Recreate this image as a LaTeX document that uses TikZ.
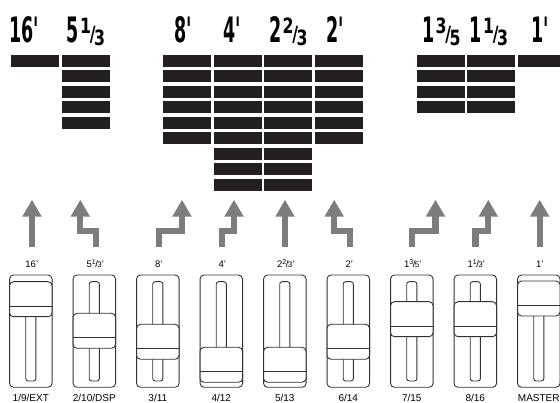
\documentclass[tikz,border=0pt]{standalone}
\usepackage{fontspec}
\setmainfont{Liberation Sans}
\newfontfamily\pixfont[FakeStretch=0.5]{DejaVu Sans}
\newfontfamily\pixsmall[FakeStretch=0.75]{DejaVu Sans}
\definecolor{barcol}{RGB}{35,31,32}
\definecolor{arrcol}{RGB}{125,125,128}
\definecolor{slcol}{RGB}{50,50,50}
\newcommand\pxfrac[3]{#1{\pixsmall\bfseries\fontsize{21}{21}\selectfont\kern1pt\raisebox{9.5pt}{#2}\kern-1pt\raisebox{1pt}{/}\kern-1.5pt\raisebox{-3pt}{#3}}}
\newcommand\slfrac[3]{#1\raisebox{0.35em}{\scriptsize#2}\kern-0.05em/\kern-0.05em{\footnotesize#3}'}
\tikzset{
  pix/.style={font=\pixfont\bfseries\fontsize{35}{35}\selectfont, inner sep=0pt, anchor=base},
  toplab/.style={font=\fontsize{9.5}{10}\selectfont, inner sep=0pt, anchor=base},
  botlab/.style={font=\fontsize{10}{11}\selectfont, inner sep=0pt, anchor=base},
  sl/.style={draw=slcol, line width=0.9pt},
  arr/.style={draw=arrcol, line width=6.2pt, line join=miter},
}
\begin{document}
\begin{tikzpicture}[x=1pt,y=-1pt]
\useasboundingbox (0,0) rectangle (560,403);
% bars
\foreach \x/\n in {11/1,62/5,163/6,214/9,264/9,315/6,417/4,467/4,518/1}
  \foreach \k in {1,...,\n}
    \fill[barcol] (\x,{55+15.5*(\k-1)}) rectangle ++(47.5,11.7);
% top pixel labels
\node[pix] (t1) at (24,43) {16'};
\node[pix] (t2) at (86,43) {\pxfrac{5}{1}{3}};
\node[pix] (t3) at (183,43) {8'};
\node[pix] (t4) at (232.5,43) {4'};
\node[pix] (t5) at (288.5,43) {\pxfrac{2}{2}{3}};
\node[pix] (t6) at (335,43) {2'};
\node[pix] (t7) at (441.5,43) {\pxfrac{1}{3}{5}};
\node[pix] (t8) at (489,43) {\pxfrac{1}{1}{3}};
\node[pix] (t9) at (540,43) {1'};
% arrows
\foreach \l/\u in {95.7/80.3,159/182,222/234,349.7/334.2,412/435.5,475.5/488.3}{
  \draw[arr] (\l,247.3) -- (\l,231.3) -- (\u,231.3) -- (\u,215.5);
  \fill[arrcol] (\u-9.8,216.7) -- (\u,200) -- (\u+9.8,216.7) -- cycle;
}
\foreach \u in {32,285,539.7}{
  \draw[arr] (\u,247.3) -- (\u,215.5);
  \fill[arrcol] (\u-9.8,216.7) -- (\u,200) -- (\u+9.8,216.7) -- cycle;
}
% sliders
\foreach \c/\h in {30.8/281.7, 94.3/313.3, 157.8/324.3, 221.3/347.3, 284.8/347.3, 348.3/324.3, 411.8/301.7, 475.3/301.7, 538.8/281}{
  \draw[sl, rounded corners=4pt] (\c-21.25,275) rectangle (\c+21.25,387.3);
  \draw[sl, rounded corners=2.5pt] (\c-5.1,281.7) rectangle (\c+5.1,381);
  \draw[sl, fill=white, rounded corners=4pt] (\c-21.25,\h) rectangle (\c+21.25,\h+35);
  \draw[sl] (\c-21.25,\h+24.5) -- (\c+21.25,\h+24.5);
}
% slider labels
\node[toplab] (s1) at (31.8,267.5) {16'};
\node[toplab] (s2) at (95.3,267.5) {\slfrac{5}{1}{3}};
\node[toplab] (s3) at (158.8,267.5) {8'};
\node[toplab] (s4) at (222.3,267.5) {4'};
\node[toplab] (s5) at (285.8,267.5) {\slfrac{2}{2}{3}};
\node[toplab] (s6) at (349.3,267.5) {2'};
\node[toplab] (s7) at (412.8,267.5) {\slfrac{1}{3}{5}};
\node[toplab] (s8) at (476.3,267.5) {\slfrac{1}{1}{3}};
\node[toplab] (s9) at (539.8,267.5) {1'};
\node[botlab] (b1) at (30.8,401.7) {1/9/EXT};
\node[botlab] (b2) at (94.3,401.7) {2/10/DSP};
\node[botlab] (b3) at (157.8,401.7) {3/11};
\node[botlab] (b4) at (221.3,401.7) {4/12};
\node[botlab] (b5) at (284.8,401.7) {5/13};
\node[botlab] (b6) at (348.3,401.7) {6/14};
\node[botlab] (b7) at (411.8,401.7) {7/15};
\node[botlab] (b8) at (475.3,401.7) {8/16};
\node[botlab] (b9) at (538.8,401.7) {MASTER};
\end{tikzpicture}
\end{document}
